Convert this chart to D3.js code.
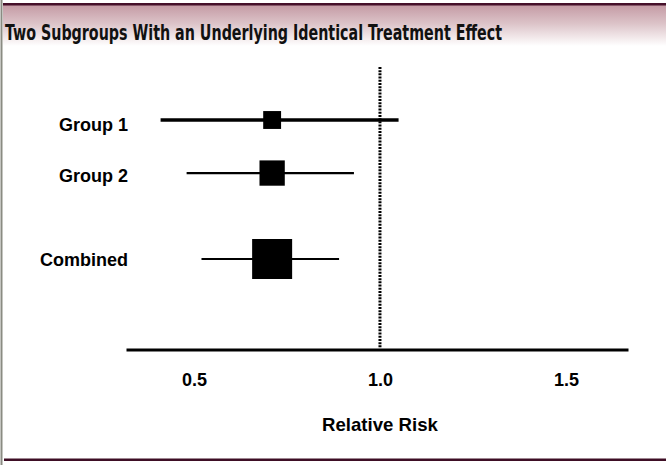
<!DOCTYPE html>
<html>
<head>
<meta charset="utf-8">
<script src="https://cdn.jsdelivr.net/npm/d3@7"></script>
<style>
  html, body { margin: 0; padding: 0; background: #ffffff; }
  svg { display: block; }
</style>
</head>
<body>
<svg id="chart" width="666" height="465"></svg>
<script>
// ---- data ----
const title = "Two Subgroups With an Underlying Identical Treatment Effect";
const categories = ["Group 1", "Group 2", "Combined"];
const rowPositions = [1, 2, 3.62];          // vertical placement of each row (Combined set apart)
const pointEstimates = [0.71, 0.71, 0.71];  // relative risk
const lowerCI = [0.41, 0.48, 0.52];
const upperCI = [1.05, 0.93, 0.89];
const weights = [1, 2, 5];                  // relative study weight -> square area
const tickValues = [0.5, 1.0, 1.5];
const tickLabels = ["0.5", "1.0", "1.5"];
const referenceValue = 1.0;
const axisTitle = "Relative Risk";

// ---- layout ----
const W = 666, H = 465;
const svg = d3.select("#chart");
const font = "'Liberation Sans', Arial, Helvetica, sans-serif";

const x = d3.scaleLinear().domain([0.317, 1.667]).range([126, 628]);
const y = d3.scaleLinear().domain([1, 3.62]).range([120, 259]);
const yLabel = d3.scaleLinear().domain([1, 3.62]).range([131, 265.5]);
const size = d3.scaleSqrt().domain([0, 5]).range([0, 40]);
const axisY = 349.5;

// frame / title bar
const defs = svg.append("defs");
const grad = defs.append("linearGradient").attr("id", "tg")
  .attr("x1", 0).attr("y1", 0).attr("x2", 0).attr("y2", 1);
grad.append("stop").attr("offset", "0%").attr("stop-color", "#c49aa4");
grad.append("stop").attr("offset", "45%").attr("stop-color", "#dcc3c8");
grad.append("stop").attr("offset", "100%").attr("stop-color", "#ffffff");

svg.append("rect").attr("x", 0).attr("y", 0).attr("width", W).attr("height", H).attr("fill", "#ffffff");
svg.append("rect").attr("x", 3).attr("y", 5).attr("width", W - 3).attr("height", 41).attr("fill", "url(#tg)");
svg.append("rect").attr("x", 3).attr("y", 3).attr("width", W - 3).attr("height", 2.5).attr("fill", "#46102a");
svg.append("rect").attr("x", 4).attr("y", 458.5).attr("width", W - 4).attr("height", 2.5).attr("fill", "#3e0e25");
svg.append("rect").attr("x", 0.5).attr("y", 0).attr("width", 2).attr("height", H).attr("fill", "#8a8b82");

svg.append("text")
  .attr("x", 5).attr("y", 39.5)
  .attr("font-family", "'Liberation Sans Narrow', 'DejaVu Sans Condensed', 'Arial Narrow', sans-serif")
  .attr("font-weight", "bold")
  .attr("font-size", 21)
  .attr("textLength", 497)
  .attr("lengthAdjust", "spacingAndGlyphs")
  .attr("fill", "#111111")
  .text(title);

// reference line at RR = 1
svg.append("line")
  .attr("x1", x(referenceValue)).attr("x2", x(referenceValue))
  .attr("y1", y(0)).attr("y2", axisY - 2)
  .attr("stroke", "#000").attr("stroke-width", 3)
  .attr("stroke-dasharray", "2,1.2");

// axis
const axis = d3.axisBottom(x)
  .tickValues(tickValues)
  .tickFormat((d, i) => tickLabels[i])
  .tickSize(0)
  .tickPadding(24);
const gAxis = svg.append("g").attr("transform", `translate(0,${axisY})`).call(axis);
gAxis.select(".domain").attr("stroke", "#000").attr("stroke-width", 3);
gAxis.selectAll("text")
  .attr("font-family", font).attr("font-weight", "bold").attr("font-size", 18)
  .attr("fill", "#000");

svg.append("text")
  .attr("x", x(referenceValue)).attr("y", 431)
  .attr("text-anchor", "middle")
  .attr("font-family", font).attr("font-weight", "bold").attr("font-size", 18.6)
  .attr("fill", "#000")
  .text(axisTitle);

// rows
const rows = categories.map((c, i) => ({
  name: c, pos: rowPositions[i], est: pointEstimates[i],
  lo: lowerCI[i], hi: upperCI[i], w: weights[i], i
}));

const g = svg.append("g");
g.selectAll("line.ci").data(rows).join("line")
  .attr("class", "ci")
  .attr("x1", d => x(d.lo)).attr("x2", d => x(d.hi))
  .attr("y1", d => y(d.pos)).attr("y2", d => y(d.pos))
  .attr("stroke", "#000")
  .attr("stroke-width", d => d.i === 0 ? 3.3 : 2.2);

g.selectAll("rect.pt").data(rows).join("rect")
  .attr("class", "pt")
  .attr("x", d => x(d.est) - size(d.w) / 2)
  .attr("y", d => y(d.pos) - size(d.w) / 2)
  .attr("width", d => size(d.w))
  .attr("height", d => size(d.w))
  .attr("fill", "#000");

g.selectAll("text.lab").data(rows).join("text")
  .attr("class", "lab")
  .attr("x", 128)
  .attr("y", d => yLabel(d.pos))
  .attr("text-anchor", "end")
  .attr("font-family", font).attr("font-weight", "bold").attr("font-size", 18)
  .attr("fill", "#000")
  .text(d => d.name);
</script>
</body>
</html>
